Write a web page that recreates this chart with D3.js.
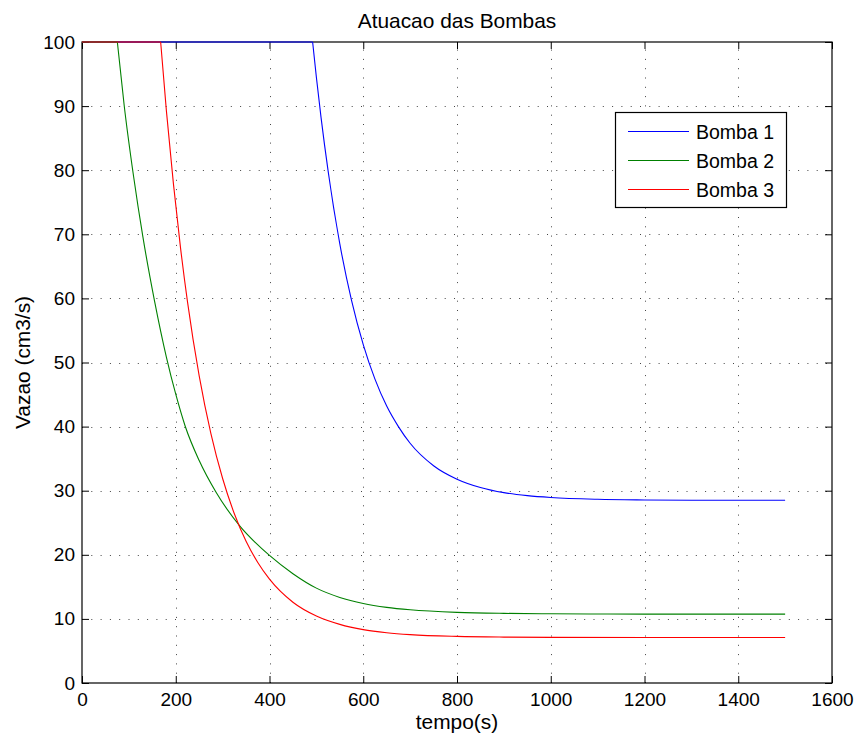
<!DOCTYPE html>
<meta charset="utf-8">
<script src="https://d3js.org/d3.v7.min.js"></script>
<style>
body { margin:0; background:#fff; overflow:hidden; }
svg text { font-family: 'Liberation Sans', Arial, Helvetica, sans-serif; fill:#000; }
</style>
<svg width="858" height="738"></svg>
<script>

// values (tempo in s, vazao in cm3/s)
var bomba1 = [[0,100],[492,100],[500,94.5],[510,88.2],[525,79.9],[550,68.5],[575,59.7],[600,52.8],
    [625,47.4],[650,43.2],[675,40],[700,37.4],[750,33.9],[800,31.8],[850,30.5],[900,29.7],
    [950,29.23],[1000,28.94],[1100,28.66],[1200,28.56],[1300,28.52],[1500,28.5]];
var bomba2 = [[0,100],[75.4,100],[90,90.1],[110,79.05],[130,69.55],[155,59.5],[180,50.85],[200,45.05],
    [220,40.1],[250,34.7],[286,29.75],[336,24.55],[400,19.9],[450,17.05],[500,14.8],[550,13.35],
    [600,12.4],[650,11.8],[700,11.42],[800,11.02],[900,10.86],[1000,10.8],[1100,10.77],
    [1200,10.75],[1500,10.75]];
var bomba3 = [[0,100],[167.8,100],[180,89.3],[195,77.9],[210,68],[225,59.5],[250,47.9],[275,38.9],
    [300,31.9],[325,26.4],[350,22.1],[375,18.8],[400,16.2],[450,12.6],[500,10.45],[550,9.15],
    [600,8.33],[650,7.85],[700,7.55],[800,7.27],[900,7.16],[1000,7.12],[1200,7.1],[1500,7.1]];

var seriesNames = ['Bomba 1', 'Bomba 2', 'Bomba 3'];
var seriesColors = ['#0000ff', '#008000', '#ff0000'];
var xTicks = [0, 200, 400, 600, 800, 1000, 1200, 1400, 1600];
var yTicks = [0, 10, 20, 30, 40, 50, 60, 70, 80, 90, 100];

var svg = d3.select('svg');
var plotL = 82, plotR = 832, plotT = 42, plotB = 683;

var x = d3.scaleLinear().domain([0, 1600]).range([plotL, plotR]);
var y = d3.scaleLinear().domain([0, 100]).range([plotB, plotT]);

// grid
var grid = svg.append('g').attr('class', 'grid')
    .attr('stroke', '#444').attr('stroke-width', 1).attr('stroke-dasharray', '1,8.3');
grid.selectAll('line.v').data(xTicks.slice(1, -1)).enter().append('line')
    .attr('x1', function(d) { return Math.round(x(d)) + 0.5 })
    .attr('x2', function(d) { return Math.round(x(d)) + 0.5 })
    .attr('y1', plotB).attr('y2', plotT)
grid.selectAll('line.h').data(yTicks.slice(1, -1)).enter().append('line')
    .attr('y1', function(d) { return Math.round(y(d)) + 0.5 })
    .attr('y2', function(d) { return Math.round(y(d)) + 0.5 })
    .attr('x1', plotL).attr('x2', plotR)

// axes with inward ticks on all sides (box)
var tickLen = 7;
var fmt = d3.format('d');
var xAxisB = d3.axisBottom(x).tickValues(xTicks).tickFormat(fmt).tickSize(-tickLen).tickPadding(10).tickSizeOuter(0);
var xAxisT = d3.axisTop(x).tickValues(xTicks).tickSize(-tickLen).tickFormat('').tickSizeOuter(0);
var yAxisL = d3.axisLeft(y).tickValues(yTicks).tickFormat(fmt).tickSize(-tickLen).tickPadding(7).tickSizeOuter(0);
var yAxisR = d3.axisRight(y).tickValues(yTicks).tickSize(-tickLen).tickFormat('').tickSizeOuter(0);

function styleAxis(g) {
    g.select('.domain').remove();
    g.selectAll('.tick line').attr('stroke', '#000').attr('stroke-width', 1);
    g.selectAll('.tick text').attr('font-size', 19).attr('font-family', "'Liberation Sans', Arial, sans-serif").attr('fill', '#000');
}
svg.append('g').attr('transform', 'translate(0,' + plotB + ')').call(xAxisB).call(styleAxis);
svg.append('g').attr('transform', 'translate(0,' + plotT + ')').call(xAxisT).call(styleAxis);
svg.append('g').attr('transform', 'translate(' + plotL + ',0)').call(yAxisL).call(styleAxis);
svg.append('g').attr('transform', 'translate(' + plotR + ',0)').call(yAxisR).call(styleAxis);

svg.append('rect').attr('x', plotL).attr('y', plotT)
    .attr('width', plotR - plotL).attr('height', plotB - plotT)
    .attr('fill', 'none').attr('stroke', '#000').attr('stroke-width', 1.2)

// curves: flat saturated part + smooth decay (drawn over the box, like the original)
var line = d3.line().x(function(d) { return x(d[0]) }).y(function(d) { return y(d[1]) })
var smooth = d3.line().curve(d3.curveMonotoneX)
    .x(function(d) { return x(d[0]) }).y(function(d) { return y(d[1]) })

var curves = svg.append('g').attr('class', 'curves').attr('fill', 'none').attr('stroke-width', 1.1);
[bomba1, bomba2, bomba3].forEach(function(s, i) {
    curves.append('path').attr('d', line(s.slice(0, 2))).attr('stroke', seriesColors[i]);
    curves.append('path').attr('d', smooth(s.slice(1))).attr('stroke', seriesColors[i]);
})

// labels
svg.append('text').attr('x', (plotL + plotR) / 2).attr('y', 28).attr('text-anchor', 'middle')
    .attr('font-size', 20.9).text('Atuacao das Bombas')
svg.append('text').attr('x', (plotL + plotR) / 2).attr('y', 729).attr('text-anchor', 'middle')
    .attr('font-size', 20.9).text('tempo(s)')
svg.append('text').attr('transform', 'translate(30,' + ((plotT + plotB) / 2) + ') rotate(-90)')
    .attr('text-anchor', 'middle').attr('font-size', 20.9).text('Vazao (cm3/s)')

// legend
var legend = svg.append('g').attr('class', 'legend');
legend.append('rect').attr('x', 615.5).attr('y', 112.5).attr('width', 171).attr('height', 95)
    .attr('fill', '#fff').attr('stroke', '#000').attr('stroke-width', 1.2)
seriesNames.forEach(function(name, i) {
    var ly = 131.5 + i * 29;
    legend.append('line').attr('x1', 628).attr('x2', 689).attr('y1', ly).attr('y2', ly)
        .attr('stroke', seriesColors[i]).attr('stroke-width', 1.2)
    legend.append('text').attr('x', 696).attr('y', ly + 7).attr('font-size', 19.5).text(name)
})
</script>
